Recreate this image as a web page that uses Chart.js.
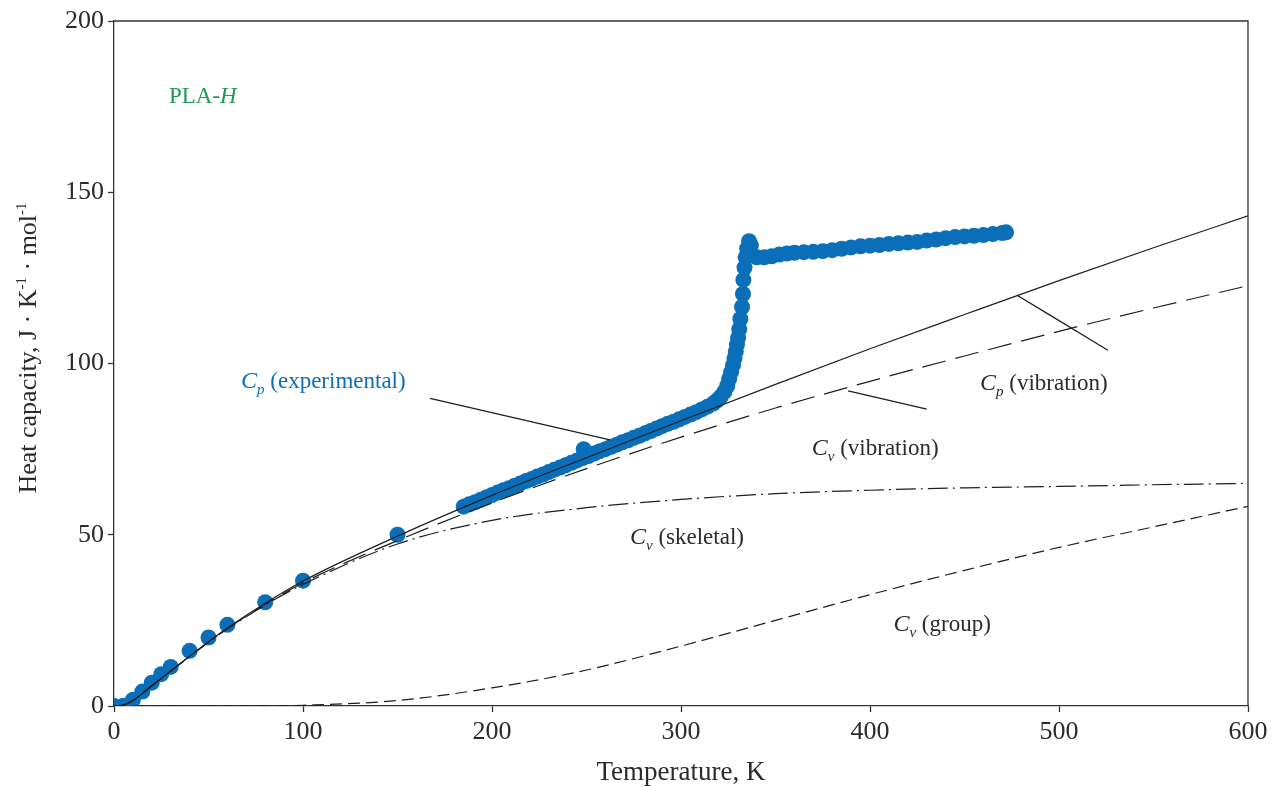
<!DOCTYPE html>
<html><head><meta charset="utf-8">
<script src="https://cdn.jsdelivr.net/npm/chart.js@4.4.1/dist/chart.umd.min.js"></script>
<style>html,body{margin:0;padding:0;background:#fff}#wrap{width:1278px;height:787px;position:relative}canvas{display:block}</style>
</head><body><div id="wrap"><canvas id="c" width="1278" height="787" style="width:1278px;height:787px"></canvas></div>
<script>
// ---- Experimental Cp (K, J/K/mol) ----
const expT = [0,5,10,15,20,25,30,40,50,60,80,100,150,
  185,188,191,194,197,200,203,206,209,212,215,218,221,224,227,230,233,236,239,242,245,248,248.5,251,254,257,260,263,266,269,272,275,278,281,284,287,290,293,296,299,302,305,308,311,314,317,319,
  321,323,324.5,325.5,326.5,327.5,328.3,329,329.6,330.2,330.8,331.4,332.3,332.8,333,333.6,334.2,335,336,337,338,
  340,344,348,352,356,360,365,370,375,380,385,390,395,400,405,410,415,420,425,430,435,440,445,450,455,460,465,470,472];
const expCp = [0,0.1,1.8,4.2,6.8,9.3,11.4,16.1,20.0,23.7,30.3,36.6,50.0,
  58.2,58.9,59.5,60.2,60.9,61.6,62.3,63.0,63.6,64.3,65.0,65.7,66.3,67.0,67.6,68.3,69.0,69.6,70.3,71.0,71.7,72.4,75.0,73.0,73.7,74.4,75.0,75.7,76.3,77.0,77.6,78.3,78.9,79.6,80.3,81.0,81.7,82.4,83.0,83.7,84.4,85.1,85.8,86.6,87.4,88.3,89.2,
  90.3,91.8,93.5,95.5,97.5,99.5,101.5,103.5,105.5,107.5,110,113,116.5,120.3,124.4,128,131,133.5,135.7,134.5,131.5,
  131.0,131.0,131.3,131.8,132.1,132.3,132.5,132.6,132.8,133.1,133.5,133.9,134.2,134.4,134.6,134.9,135.1,135.3,135.5,135.9,136.2,136.6,136.9,137.1,137.3,137.5,137.8,138.1,138.3];

// ---- Calculated curves ----
const calcT  = [0,5,10,20,30,40,50,60,80,100,150,200,250,300,350,400,450,500,550,600];
const cpVib  = [0,0.3,1.6,5.9,10.2,14.5,18.8,22.8,30.0,36.5,49.6,61.5,72.5,83.3,93.9,104.3,114.3,124.2,133.8,143.1];
const cvVib  = [0,0.3,1.6,5.9,10.2,14.5,18.7,22.6,29.7,36.0,48.3,59.3,69.3,78.5,87.0,94.8,102.2,109.4,116.2,122.7];
const cvSkel = [0,0.3,1.6,5.9,10.2,14.4,18.6,22.5,29.5,35.5,47.3,54.2,57.9,60.3,62.0,63.0,63.7,64.1,64.6,65.0];
const cvGroup= [0,0,0,0,0,0,0,0,0.02,0.2,1.6,5.3,10.5,17.5,25.0,32.5,39.6,46.3,52.3,58.3];

// ---- Leader lines (data coordinates) ----
const leaderExpT = [167.2, 262.4], leaderExpC = [89.8, 77.7];
const leaderCvT  = [388.4, 430.0], leaderCvC  = [92.0, 86.7];
const leaderCpT  = [477.6, 525.9], leaderCpC  = [120.0, 103.9];

// ---- Ticks ----
const xTicks = [0,100,200,300,400,500,600];
const yTicks = [0,50,100,150,200];

const pts = (xs, ys) => xs.map((x,i)=>({x, y: ys[i]}));

const FONT = "'Liberation Serif', 'Times New Roman', serif";
const INK = '#2b2b2b';
const BLUE = '#0a6fb8';
const GREEN = '#1e9b55';

const labels = [
  {t:67.2,  c:95.2, sub:'p', rest:' (experimental)', color:BLUE},
  {t:458.2, c:94.7, sub:'p', rest:' (vibration)', color:INK},
  {t:369.2, c:75.5, sub:'v', rest:' (vibration)', color:INK},
  {t:273.0, c:49.6, sub:'v', rest:' (skeletal)', color:INK},
  {t:412.4, c:24.1, sub:'v', rest:' (group)', color:INK}
];

const annotPlugin = {
  id:'annot',
  afterDatasetsDraw(chart){
    const {ctx, chartArea:a, scales:{x,y}} = chart;
    ctx.save();
    ctx.strokeStyle = '#333'; ctx.lineWidth = 1.3;
    ctx.beginPath();
    ctx.moveTo(a.left, a.top); ctx.lineTo(a.right, a.top); ctx.lineTo(a.right, a.bottom);
    ctx.stroke();
    ctx.textBaseline = 'alphabetic'; ctx.textAlign = 'left';
    labels.forEach(l=>{
      let px = x.getPixelForValue(l.t), py = y.getPixelForValue(l.c) + 8;
      ctx.fillStyle = l.color;
      ctx.font = "italic 24px " + FONT;
      ctx.fillText('C', px, py); px += ctx.measureText('C').width;
      ctx.font = "italic 15px " + FONT;
      ctx.fillText(l.sub, px, py + 6); px += ctx.measureText(l.sub).width;
      ctx.font = "23px " + FONT;
      ctx.fillText(l.rest, px, py);
    });
    let px = x.getPixelForValue(29.1), py = y.getPixelForValue(178.4) + 8;
    ctx.fillStyle = GREEN;
    ctx.font = "23px " + FONT;
    ctx.fillText('PLA-', px, py); px += ctx.measureText('PLA-').width;
    ctx.font = "italic 23px " + FONT;
    ctx.fillText('H', px, py);

    // y-axis title with superscripts
    const parts = [['Heat capacity, J · K',0],['-1',1],[' · mol',0],['-1',1]];
    const big = "26px " + FONT, small = "15px " + FONT;
    let w = 0;
    parts.forEach(p=>{ ctx.font = p[1]?small:big; w += ctx.measureText(p[0]).width; });
    ctx.translate(36, 348);
    ctx.rotate(-Math.PI/2);
    ctx.fillStyle = INK;
    let cx = -w/2;
    parts.forEach(p=>{
      ctx.font = p[1]?small:big;
      ctx.fillText(p[0], cx, p[1] ? -10 : 0);
      cx += ctx.measureText(p[0]).width;
    });
    ctx.restore();
  }
};

const lineDs = (data, dash, order) => ({
  type:'line', data, borderColor:'#1e1e1e', borderWidth:1.2, borderDash:dash,
  pointRadius:0, fill:false, cubicInterpolationMode:'monotone', order
});

new Chart(document.getElementById('c'), {
  type:'scatter',
  data:{ datasets:[
    {data: pts(expT, expCp), backgroundColor:BLUE, borderColor:BLUE, pointRadius:8, pointBorderWidth:0, order:10},
    lineDs(pts(calcT, cvGroup), [12,6], 4),
    lineDs(pts(calcT, cvSkel), [20,5,2,5], 3),
    lineDs(pts(calcT, cvVib), [24,10], 2),
    lineDs(pts(calcT, cpVib), [], 1),
    lineDs(pts(leaderExpT, leaderExpC), [], 0),
    lineDs(pts(leaderCvT, leaderCvC), [], 0),
    lineDs(pts(leaderCpT, leaderCpC), [], 0)
  ]},
  options:{
    responsive:false, maintainAspectRatio:false, animation:false, devicePixelRatio:1,
    layout:{padding:{top:21, right:30, left:0, bottom:0}},
    plugins:{legend:{display:false}, tooltip:{enabled:false}},
    scales:{
      x:{type:'linear', min:0, max:600,
        afterBuildTicks(s){ s.ticks = xTicks.map(v=>({value:v})); },
        afterFit(s){ s.height = 81; },
        border:{display:true, color:'#333', width:1.3},
        grid:{drawOnChartArea:false, drawTicks:true, tickLength:6, color:'#333', tickWidth:1.3},
        ticks:{color:INK, font:{family:FONT, size:26}, padding:5, maxRotation:0},
        title:{display:true, text:'Temperature, K', color:INK, font:{family:FONT, size:27}, padding:{top:0,bottom:-2}}
      },
      y:{type:'linear', min:0, max:200,
        afterBuildTicks(s){ s.ticks = yTicks.map(v=>({value:v})); },
        afterFit(s){ s.width = 114; },
        border:{display:true, color:'#333', width:1.3},
        grid:{drawOnChartArea:false, drawTicks:true, tickLength:6, color:'#333', tickWidth:1.3},
        ticks:{color:INK, font:{family:FONT, size:26}, padding:4},
        title:{display:false}
      }
    }
  },
  plugins:[annotPlugin]
});
</script></body></html>
